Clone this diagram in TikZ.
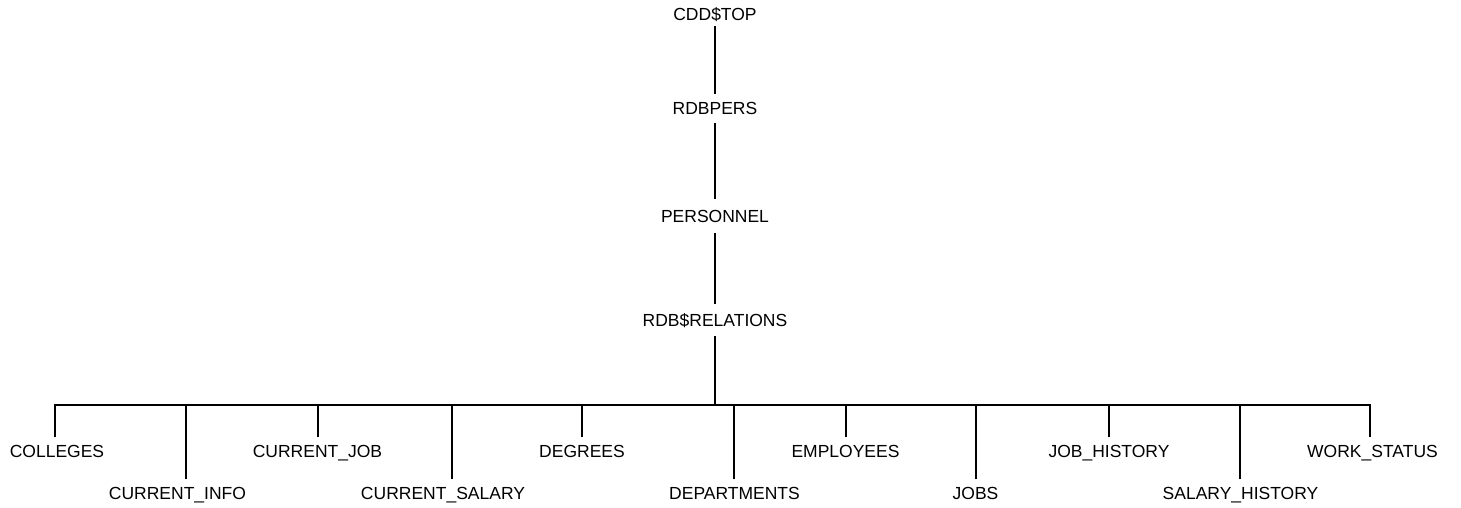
\documentclass[tikz,border=0pt]{standalone}
\usepackage{fontspec}
\setmainfont{Liberation Sans}
\begin{document}
\begin{tikzpicture}[x=1pt,y=-1pt,
  lbl/.style={font=\fontsize{17.5}{20}\selectfont, text height=12.5pt, text depth=0pt,
              inner xsep=0pt, inner ysep=8pt, outer sep=0pt},
  kid/.style={lbl, inner ysep=7.5pt},
  link/.style={line width=2pt, line cap=butt}]
\useasboundingbox (0,0) rectangle (1461,507);

% upper chain of the hierarchy
\node[lbl, inner ysep=6pt] (top) at (715,14) {CDD\$TOP};
\node[lbl] (rdbpers) at (715,108.5) {RDBPERS};
\node[lbl, inner ysep=11pt] (personnel) at (715,216) {PERSONNEL};
\node[lbl, inner ysep=10pt] (relations) at (715,320) {RDB\$RELATIONS};

\draw[link] (top.south) -- (rdbpers.north);
\draw[link] (rdbpers.south) -- (personnel.north);
\draw[link] (personnel.south) -- (relations.north);

% horizontal bus joining the relations
\coordinate (bus) at (715,405);
\draw[link] (relations.south) -- (bus);

% relations, alternating between two rows
\node[kid] (colleges)   at (57,451)    {COLLEGES};
\node[kid] (curinfo)    at (177.5,493) {CURRENT\_INFO};
\node[kid] (curjob)     at (317.5,451) {CURRENT\_JOB};
\node[kid] (cursalary)  at (443,493)   {CURRENT\_SALARY};
\node[kid] (degrees)    at (582,451)   {DEGREES};
\node[kid] (depts)      at (734.5,493) {DEPARTMENTS};
\node[kid] (employees)  at (845.5,451) {EMPLOYEES};
\node[kid] (jobs)       at (975.5,493) {JOBS};
\node[kid] (jobhist)    at (1109,451)  {JOB\_HISTORY};
\node[kid] (salhist)    at (1240.5,493){SALARY\_HISTORY};
\node[kid] (workstatus) at (1372.5,451){WORK\_STATUS};

\draw[link] ([xshift=-2pt]colleges.north) |- (bus);
\draw[link] ([xshift=8.5pt]curinfo.north) |- (bus);
\draw[link] ([xshift=0.5pt]curjob.north) |- (bus);
\draw[link] ([xshift=9pt]cursalary.north) |- (bus);
\draw[link] (degrees.north) |- (bus);
\draw[link] ([xshift=-0.5pt]depts.north) |- (bus);
\draw[link] ([xshift=0.5pt]employees.north) |- (bus);
\draw[link] ([xshift=0.5pt]jobs.north) |- (bus);
\draw[link] (jobhist.north) |- (bus);
\draw[link] ([xshift=-0.5pt]salhist.north) |- (bus);
\draw[link] ([xshift=-2.5pt]workstatus.north) |- (bus);
\end{tikzpicture}
\end{document}
